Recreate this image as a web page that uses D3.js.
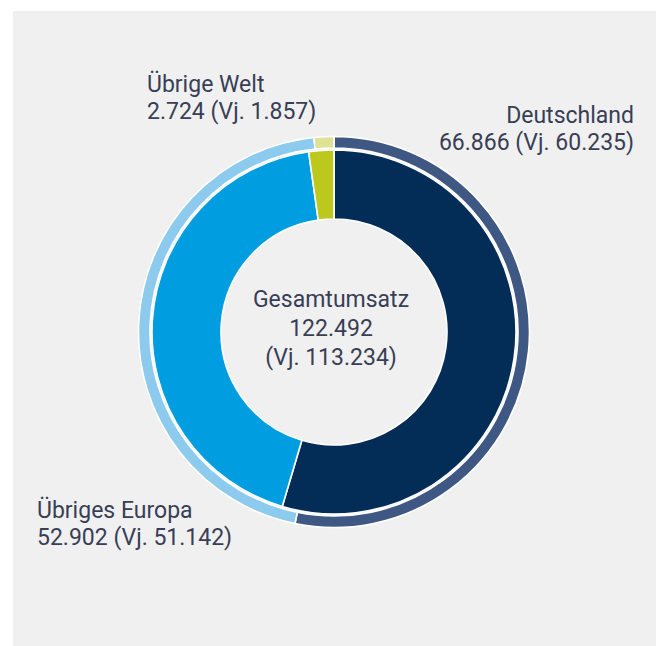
<!DOCTYPE html>
<html>
<head>
<meta charset="utf-8">
<script src="https://cdn.jsdelivr.net/npm/d3@7"></script>
<style>
  html, body { margin: 0; padding: 0; background: #ffffff; }
  svg { display: block; }
  text { font-family: Roboto, "Noto Sans", sans-serif; fill: #383e55; }
</style>
</head>
<body>
<div id="wrapper"></div>
<script>
// Umsatz nach Regionen (Mio.), aktuelles Jahr und Vorjahr
const regions = ["Deutschland", "Übriges Europa", "Übrige Welt"];
const current = [66866, 52902, 2724];
const previous = [60235, 51142, 1857];
const innerColors = ["#032d57", "#009ee0", "#bcc81b"];
const outerColors = ["#3e5883", "#8dcbee", "#dfe195"];

function drawDonut() {
    const width = 659;
    const height = 646;
    const cx = 334;
    const cy = 332;

    const de = d3.formatLocale({ decimal: ",", thousands: ".", grouping: [3], currency: ["", " €"] });
    const fmt = de.format(",");

    const svg = d3.select("#wrapper")
        .append("svg")
        .attr("width", width)
        .attr("height", height);

    // hellgraue Fläche
    svg.append("rect")
        .attr("x", 13)
        .attr("y", 11)
        .attr("width", 643)
        .attr("height", 635)
        .attr("fill", "#f0f0f0");

    const bounds = svg.append("g")
        .attr("transform", `translate(${cx},${cy})`);

    const pie = d3.pie().sort(null).startAngle(0).endAngle(2 * Math.PI);

    const innerArc = d3.arc().innerRadius(113).outerRadius(182);
    const outerArc = d3.arc().innerRadius(184).outerRadius(195.5);

    // Vorjahr außen
    bounds.append("g")
        .selectAll("path")
        .data(pie(previous))
        .join("path")
        .attr("d", outerArc)
        .attr("fill", (d, i) => outerColors[i])
        .attr("stroke", "#ffffff")
        .attr("stroke-width", 1.6);

    // aktuelles Jahr innen
    bounds.append("g")
        .selectAll("path")
        .data(pie(current))
        .join("path")
        .attr("d", innerArc)
        .attr("fill", (d, i) => innerColors[i])
        .attr("stroke", "#ffffff")
        .attr("stroke-width", 1.6);

    // Mitte
    const total = d3.sum(current);
    const totalPrev = d3.sum(previous);
    const center = bounds.append("text")
        .attr("text-anchor", "middle")
        .style("font-size", "23px");
    [["Gesamtumsatz", -25], [fmt(total), 4], [`(Vj. ${fmt(totalPrev)})`, 33]].forEach(([t, y]) => {
        center.append("tspan").attr("x", -3).attr("y", y).text(t);
    });

    // Beschriftungen
    const labels = [
        { x: 300, y: -209, anchor: "end" },    // Deutschland
        { x: -297, y: 186, anchor: "start" },  // Übriges Europa
        { x: -187, y: -240, anchor: "start" }  // Übrige Welt
    ];

    regions.forEach((name, i) => {
        const l = labels[i];
        const t = bounds.append("text")
            .attr("text-anchor", l.anchor)
            .style("font-size", "23px");
        t.append("tspan").attr("x", l.x).attr("y", l.y).text(name);
        t.append("tspan").attr("x", l.x).attr("y", l.y + 27)
            .text(`${fmt(current[i])} (Vj. ${fmt(previous[i])})`);
    });
}

drawDonut();
</script>
</body>
</html>
